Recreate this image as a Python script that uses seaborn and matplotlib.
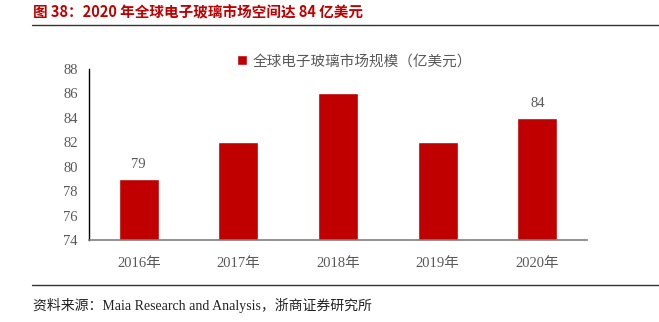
import matplotlib
matplotlib.use("Agg")
import matplotlib.pyplot as plt
import seaborn as sns
import pandas as pd

years = ["2016年", "2017年", "2018年", "2019年", "2020年"]
market_size = [79, 82, 86, 82, 84]
labelled = {0: 79, 4: 84}
yticks = [74, 76, 78, 80, 82, 84, 86, 88]

sns.set_style("white")
plt.rcParams["font.family"] = ["Liberation Serif", "Noto Sans CJK SC", "DejaVu Sans"]

df = pd.DataFrame({"year": years, "size": market_size})

fig = plt.figure(figsize=(6.59, 3.22), dpi=100)
ax = fig.add_axes([0.135, 0.2547, 0.756, 0.531])

sns.barplot(data=df, x="year", y="size", color="#C00000", width=0.4,
            saturation=1, ax=ax, label="全球电子玻璃市场规模（亿美元）")
ax.set_ylim(74, 88)
ax.set_yticks(yticks)
ax.set_xlim(-0.5, 4.5)
ax.set_xlabel("")
ax.set_ylabel("")

tick_color = "#595959"
ax.tick_params(axis="both", labelsize=10.5, colors=tick_color, length=0, pad=8)
for lab in ax.get_xticklabels() + ax.get_yticklabels():
    lab.set_family(["Liberation Serif", "Noto Sans CJK SC"])
ax.tick_params(axis="x", pad=12)

for s in ["top", "right"]:
    ax.spines[s].set_visible(False)
ax.spines["left"].set_color("black")
ax.spines["left"].set_linewidth(1.0)
ax.spines["bottom"].set_color("#7f7f7f")
ax.spines["bottom"].set_linewidth(1.2)

for idx, val in labelled.items():
    ax.annotate(f"{val}", (idx, val), xytext=(0, 6), textcoords="offset points",
                ha="center", va="bottom", fontsize=10.5, color=tick_color)

leg = ax.legend(loc="center left", bbox_to_anchor=(0.27, 1.045), frameon=False,
                fontsize=10.5, handlelength=0.7, handleheight=0.7, handletextpad=0.4)
for t in leg.get_texts():
    t.set_color(tick_color)
    t.set_family(["Noto Sans CJK SC"])

fig.text(0.05, 0.96, "图 38：2020 年全球电子玻璃市场空间达 84 亿美元",
         color="#C00000", fontsize=10.5, fontweight="bold",
         family=["Noto Sans CJK SC", "DejaVu Sans"], va="center", ha="left")
fig.add_artist(plt.Line2D([0.048, 1.0], [0.922, 0.922], color="#333333", lw=1.0))
fig.add_artist(plt.Line2D([0.048, 1.0], [0.115, 0.115], color="#333333", lw=1.0))
fig.text(0.05, 0.05, "资料来源：Maia Research and Analysis，浙商证券研究所",
         color="#222222", fontsize=10, family=["Liberation Serif", "Noto Sans CJK SC"],
         va="center", ha="left")

fig.savefig("out.png", dpi=100)
